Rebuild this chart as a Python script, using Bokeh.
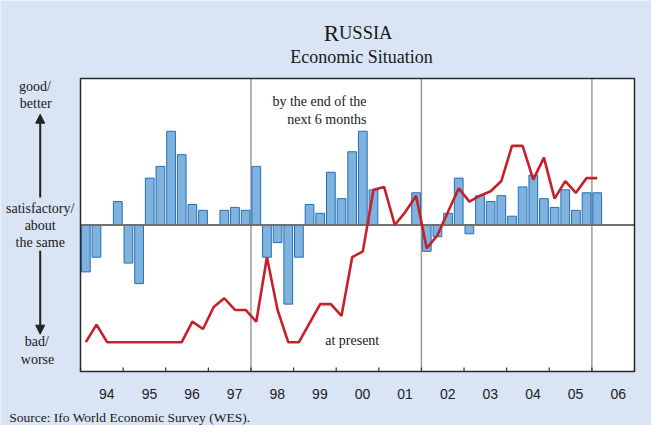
from bokeh.plotting import figure
from bokeh.models import Range1d, Label, Arrow, NormalHead, ColumnDataSource, BoxAnnotation
from bokeh.embed import file_html
from bokeh.resources import INLINE

# ---------------- data ----------------
years = list(range(1994, 2007))
year_labels = ["94", "95", "96", "97", "98", "99", "00", "01", "02", "03", "04", "05", "06"]
period_boundaries = [1998, 2002, 2006]

# Economic situation by the end of the next 6 months (bars), quarterly from 1994 Q1
expectations = [-32, -22, None, 16, -26, -40, 32, 40, 64, 48, 14, 10, None, 10, 12, 10,
                40, -22, -12, -54, -22, 14, 8, 36, 18, 50, 64, 24, None, None, None, 22,
                -18, -8, 8, 32, -6, 20, 16, 20, 6, 26, 34, 18, 12, 24, 10, 22, 22]
# Economic situation at present (line), quarterly from 1994 Q1
present = [-80, -68, -80, -80, -80, -80, -80, -80, -80, -80, -66, -71, -56, -50, -58, -58,
           -66, -22, -58, -80, -80, -67, -54, -54, -62, -22, -18, 24, 26, 0, 9, 20,
           -16, -7, 9, 25, 16, 20, 23, 30, 54, 54, 31, 46, 18, 30, 22, 32, 32]

quarter_x = [years[0] + (i + 0.5) / 4 for i in range(len(present))]
bar_x = [x for x, v in zip(quarter_x, expectations) if v is not None]
bar_top = [v for v in expectations if v is not None]

# ---------------- geometry ----------------
W, H = 651, 425
OFF = 8                      # reference page px -> canvas px
X0, X1 = years[0], years[-1] + 1
Y0, Y1 = -100, 100
PL, PT, PW, PH = 80, 78, 554, 293   # plot area in canvas px
PXY = PW / (X1 - X0)         # px per year
PXU = PH / (Y1 - Y0)         # px per unit

XL = X0 - PL / PXY
XR = X0 + (W - PL) / PXY
YT = Y1 + PT / PXU
YB = Y1 - (H - PT) / PXU

def X(px):
    return X0 + (px - OFF - PL) / PXY
def Y(py):
    return Y1 - (py - OFF - PT) / PXU

BG = "#d9e4f4"
p = figure(width=W, height=H, output_backend="svg", toolbar_location=None,
           x_range=Range1d(XL, XR), y_range=Range1d(YB, YT),
           x_axis_location=None, y_axis_location=None, min_border=0)
p.background_fill_color = BG
p.border_fill_color = BG
p.outline_line_color = None
p.xgrid.visible = False
p.ygrid.visible = False

# white plot area
p.add_layout(BoxAnnotation(left=X0, right=X1, bottom=Y0, top=Y1, fill_color="white",
                           fill_alpha=1, line_color=None, level="underlay"))

# vertical separators
p.segment(x0=period_boundaries, y0=Y0, x1=period_boundaries, y1=Y1,
          line_color="#9a9a9a", line_width=1.5)

# bars
src = ColumnDataSource(dict(x=bar_x, top=bar_top))
p.vbar(x="x", top="top", bottom=0, width=0.205, source=src,
       fill_color="#80b2de", line_color="#1f6fbd", line_width=1)

# zero line
p.segment(x0=[X0], y0=[0], x1=[X1], y1=[0], line_color="#707070", line_width=2)

# present line
p.line(quarter_x, present, line_color="#c8202a", line_width=2.6)

# frame outline
p.add_layout(BoxAnnotation(left=X0, right=X1, bottom=Y0, top=Y1, fill_alpha=0,
                           line_color="#2a2a2a", line_width=1.5, line_alpha=1, level="overlay"))

# year ticks (inside, at year boundaries)
tick_x = years + [X1]
p.segment(x0=tick_x, y0=[Y0] * len(tick_x), x1=tick_x, y1=[Y0 + 4 / PXU] * len(tick_x),
          line_color="#333333", line_width=1.2)

SERIF = "Liberation Serif"
TXT = "#1a1a1a"

def lab(text, px, py, size, align="center", baseline="middle", font=SERIF, color=TXT):
    p.add_layout(Label(x=X(px), y=Y(py), text=text, text_font=font,
                       text_font_size=f"{size}px", text_color=color,
                       text_align=align, text_baseline=baseline))

# year labels (centred in each year, slightly right as in the original)
for yr, yl in zip(years, year_labels):
    p.add_layout(Label(x=yr + 0.5 + 5 / PXY, y=Y(401), text=yl,
                       text_font="Liberation Sans", text_font_size="14px",
                       text_color="#222222", text_align="center", text_baseline="middle"))

# title
lab("R", 346.5, 40.7, 23, align="right", baseline="alphabetic")
lab("USSIA", 346.5, 40.7, 18.5, align="left", baseline="alphabetic")
lab("Economic Situation", 369, 64.3, 18, baseline="alphabetic")

# in-plot texts
lab("by the end of the", 374, 108.7, 14, align="right", baseline="alphabetic")
lab("next 6 months", 374, 126.7, 14, align="right", baseline="alphabetic")
lab("at present", 332.7, 347.7, 14, align="left", baseline="alphabetic")

# left scale texts
lab("good/", 42.5, 94, 14)
lab("better", 43.3, 110.7, 14)
lab("satisfactory/", 47.7, 216, 14)
lab("about", 47.7, 232.7, 14)
lab("the same", 47.7, 250, 14)
lab("bad/", 44.3, 349.3, 14)
lab("worse", 45, 366.7, 14)

# arrows
for ys, ye in [(205, 121.7), (258.3, 341.7)]:
    p.add_layout(Arrow(x_start=X(47.7), y_start=Y(ys), x_end=X(47.7), y_end=Y(ye),
                       line_color="#222222", line_width=2,
                       end=NormalHead(size=9, fill_color="#222222", line_color="#222222")))

# source
lab("Source: Ifo World Economic Survey (WES).", 16.7, 425, 13.5, align="left", baseline="alphabetic")

open("out.html", "w").write(file_html(p, INLINE))
